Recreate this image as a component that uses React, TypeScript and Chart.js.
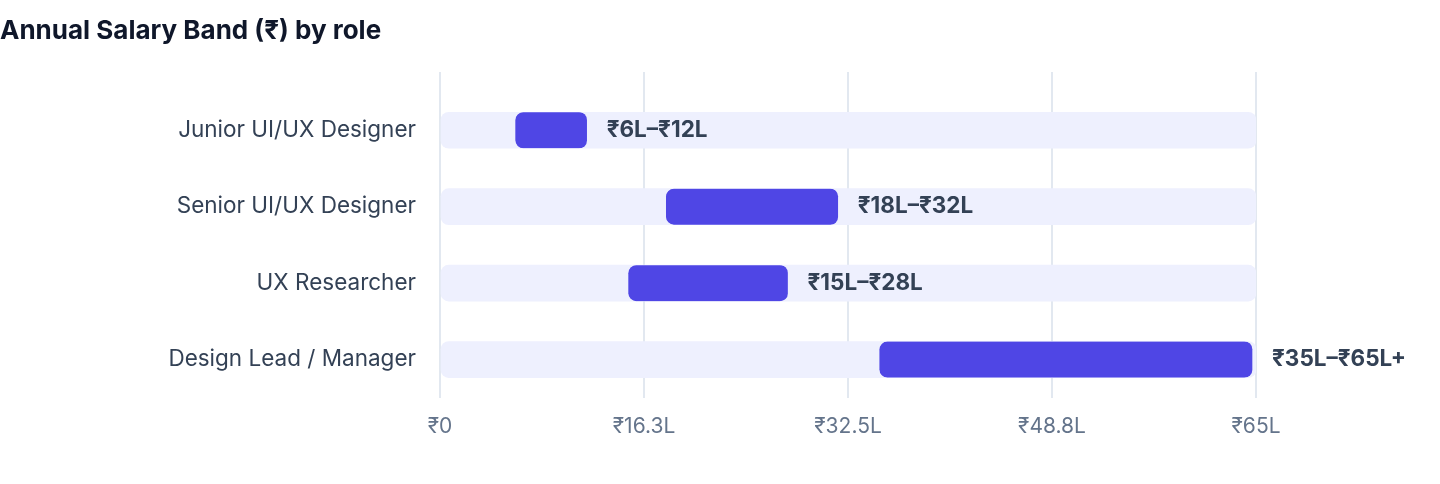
import { useEffect, useRef } from "react";
import { Chart, ChartConfiguration, registerables } from "chart.js";

Chart.register(...registerables);

const roles = [
  "Junior UI/UX Designer",
  "Senior UI/UX Designer",
  "UX Researcher",
  "Design Lead / Manager",
];
const salaryMin = [6, 18, 15, 35];
const salaryMax = [12, 32, 28, 65];
const bandLabels = ["₹6L–₹12L", "₹18L–₹32L", "₹15L–₹28L", "₹35L–₹65L+"];
const axisMax = 65;
const xTickLabels = ["₹0", "₹16.3L", "₹32.5L", "₹48.8L", "₹65L"];

const FONT = "Inter, 'Liberation Sans', sans-serif";

// writes the band text just past the end of each salary bar
const bandLabelPlugin = {
  id: "bandLabels",
  afterDatasetsDraw(chart: Chart) {
    const meta = chart.getDatasetMeta(0);
    const ctx = chart.ctx;
    ctx.save();
    ctx.font = `bold 22.5px ${FONT}`;
    ctx.fillStyle = "#334155";
    ctx.textBaseline = "middle";
    ctx.textAlign = "left";
    meta.data.forEach((bar, i) => {
      const { x, y } = bar.getProps(["x", "y"], true);
      ctx.fillText(bandLabels[i], x + 16, y);
    });
    ctx.restore();
  },
};

const SalaryBandChart = () => {
  const chartRef = useRef<HTMLCanvasElement | null>(null);
  const myChartRef = useRef<Chart<"bar"> | null>(null);

  useEffect(() => {
    if (!chartRef.current) return;
    const ctx = chartRef.current.getContext("2d");
    if (!ctx) return;

    if (myChartRef.current) {
      myChartRef.current.destroy();
    }

    const gridColor = "#E2E8F0";
    const tickStep = axisMax / (xTickLabels.length - 1);

    const config: ChartConfiguration<"bar"> = {
      type: "bar",
      data: {
        labels: roles,
        datasets: [
          {
            data: roles.map((_, i) => [salaryMin[i], salaryMax[i]]),
            backgroundColor: "#4F46E5",
            borderColor: "rgba(0,0,0,0)",
            borderWidth: { top: 0, right: 4, bottom: 0, left: 0 },
            borderRadius: { topLeft: 8, bottomLeft: 8, topRight: 12, bottomRight: 12 },
            borderSkipped: false,
            barThickness: 36,
            grouped: false,
          },
          {
            data: roles.map(() => [0, axisMax]),
            backgroundColor: "#EEF0FE",
            borderWidth: 0,
            borderRadius: 8,
            borderSkipped: false,
            barThickness: 36,
            grouped: false,
          },
        ],
      },
      options: {
        indexAxis: "y",
        responsive: true,
        maintainAspectRatio: false,
        animation: false,
        layout: { padding: { top: 72, right: 184, bottom: 29, left: 0 } },
        plugins: {
          legend: { display: false },
          tooltip: { enabled: false },
        },
        scales: {
          x: {
            type: "linear",
            min: 0,
            max: axisMax,
            position: "bottom",
            border: { display: false },
            grid: { color: gridColor, lineWidth: 2, drawTicks: false },
            ticks: {
              stepSize: tickStep,
              padding: 16,
              color: "#64748B",
              font: { family: FONT, size: 21 },
              callback: (_v, i) => xTickLabels[i],
            },
          },
          x2: {
            type: "linear",
            min: 0,
            max: axisMax,
            position: "top",
            border: { display: false },
            grid: {
              color: gridColor,
              lineWidth: 2,
              drawOnChartArea: false,
              drawTicks: true,
              tickLength: 20,
            },
            ticks: { display: false, stepSize: tickStep },
          },
          y: {
            border: { display: false },
            grid: { display: false, drawTicks: false },
            ticks: {
              padding: 24,
              color: "#334155",
              font: { family: FONT, size: 22.5 },
            },
            afterFit: (scale) => {
              scale.width = 440;
            },
          },
        },
      },
      plugins: [bandLabelPlugin],
    };

    myChartRef.current = new Chart(ctx, config);

    return () => {
      if (myChartRef.current) {
        myChartRef.current.destroy();
      }
    };
  }, []);

  return (
    <div style={{ position: "fixed", top: 0, left: 0, width: 1440, height: 484, background: "#fff" }}>
      <div
        style={{
          position: "absolute",
          top: 15,
          left: 0,
          fontFamily: FONT,
          fontWeight: 700,
          fontSize: 26,
          lineHeight: "30px",
          color: "#0F172A",
          zIndex: 1,
        }}
      >
        Annual Salary Band (₹) by role
      </div>
      <canvas ref={chartRef}></canvas>
    </div>
  );
};

export default function App() {
  return <SalaryBandChart />;
}
